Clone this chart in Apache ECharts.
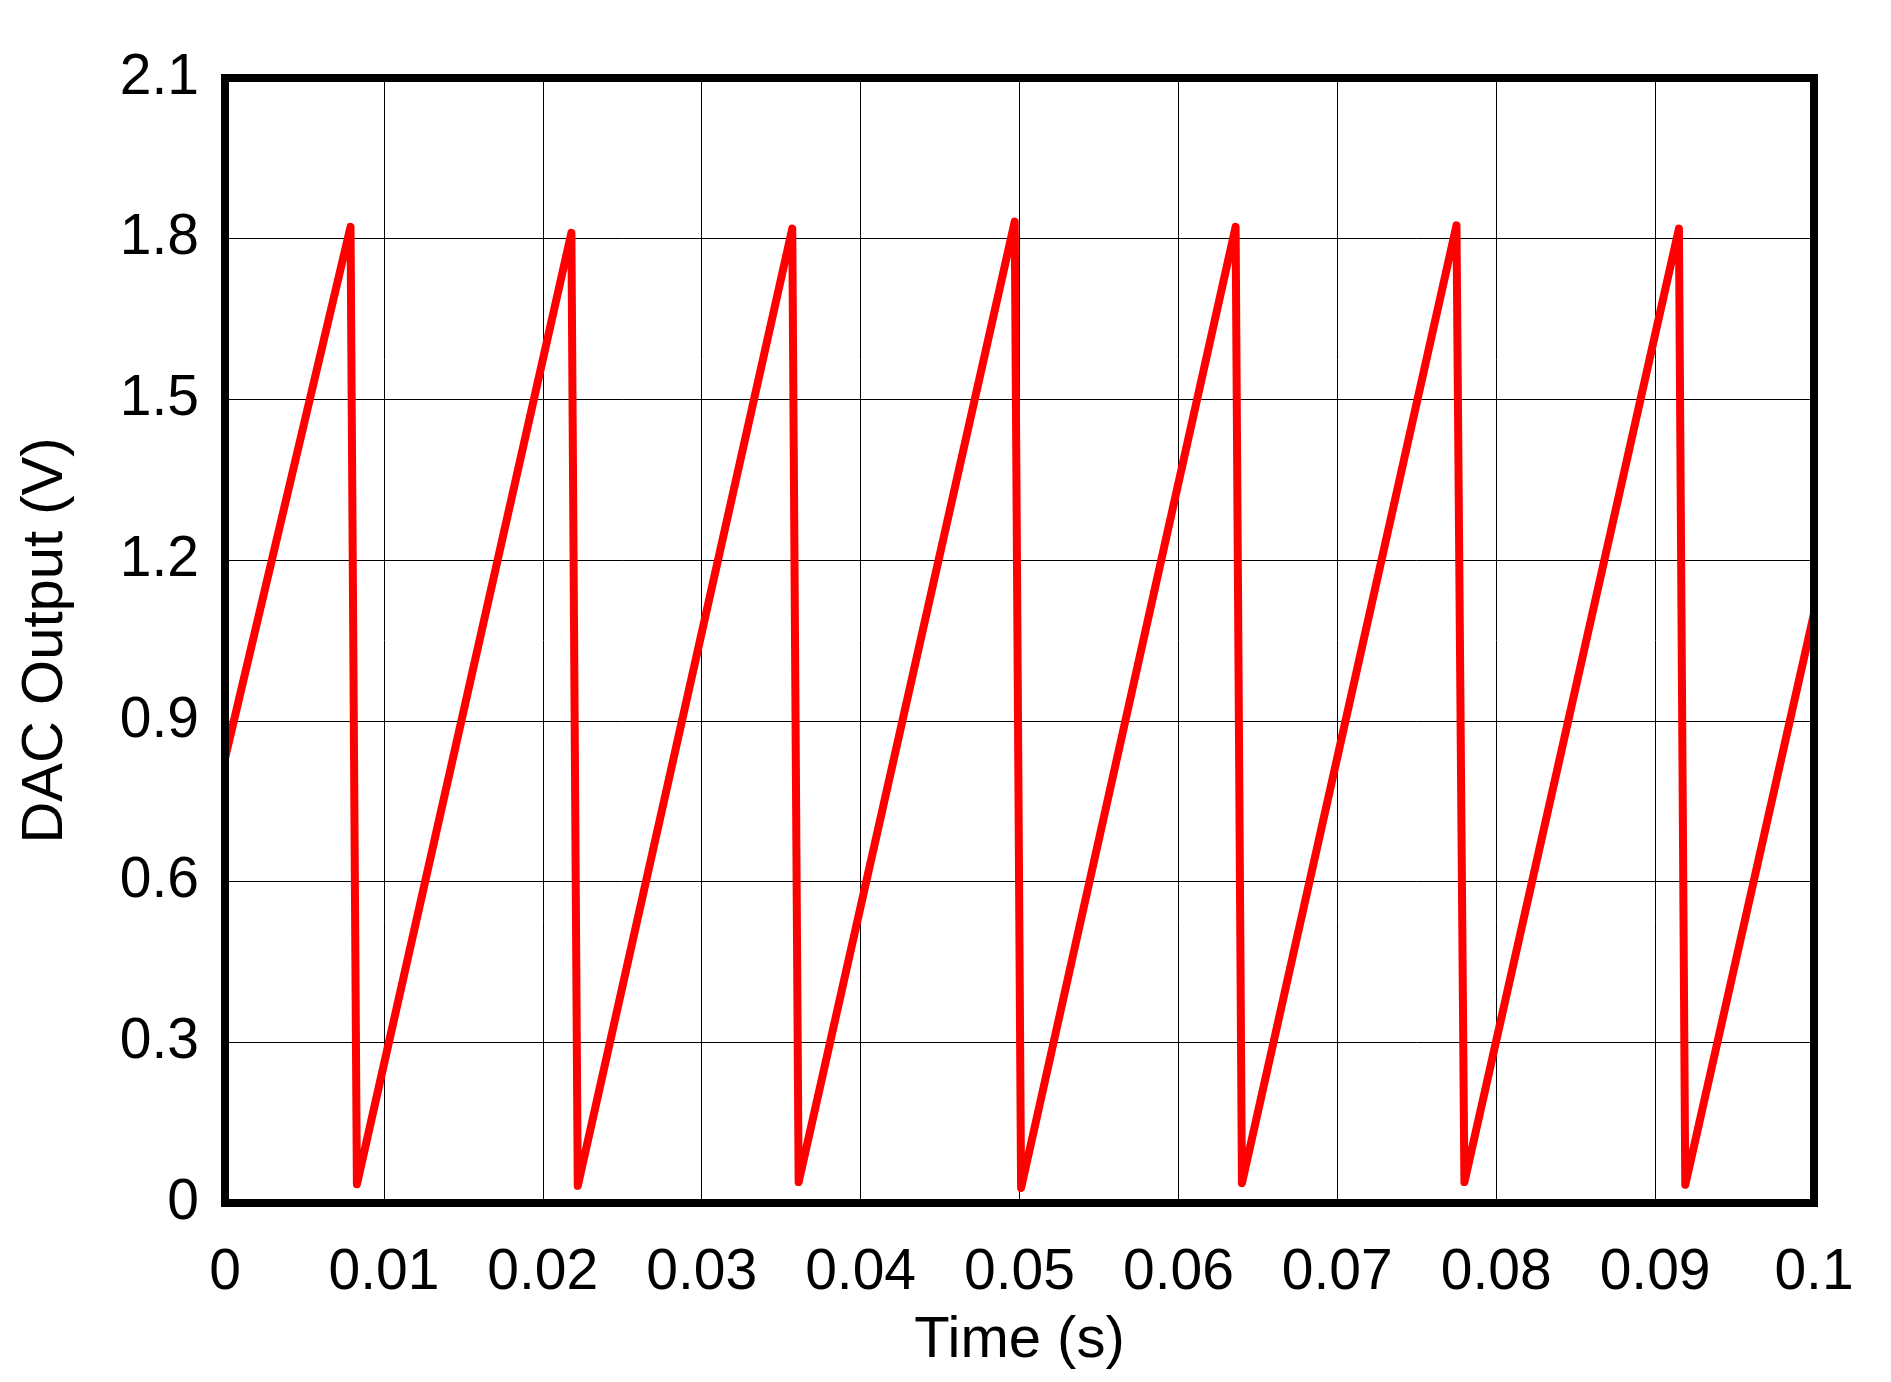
<!DOCTYPE html>
<html>
<head>
<meta charset="utf-8">
<title>DAC Output</title>
<script src="https://cdn.jsdelivr.net/npm/echarts@6.0.0/dist/echarts.min.js"></script>
<style>
  html, body { margin: 0; padding: 0; background: #fff; }
  #chart { width: 1891px; height: 1382px; }
</style>
</head>
<body>
<div id="chart"></div>
<script>
// sawtooth: peak, then a near-vertical drop to the trough
const timeValues = [0, 0.0079, 0.0083, 0.0218, 0.0222, 0.0357, 0.0361, 0.0497, 0.0501,
  0.0636, 0.0640, 0.0775, 0.0780, 0.0915, 0.0919, 0.1]
const voltValues = [0.83, 1.822, 0.035, 1.811, 0.032, 1.819, 0.039, 1.832, 0.028,
  1.822, 0.037, 1.825, 0.039, 1.819, 0.034, 1.10]
const xTickLabels = ['0', '0.01', '0.02', '0.03', '0.04', '0.05', '0.06', '0.07', '0.08', '0.09', '0.1']
const yTickLabels = ['0', '0.3', '0.6', '0.9', '1.2', '1.5', '1.8', '2.1']

const font = 'Liberation Sans, Arial, sans-serif'
const border = {
  show: true,
  onZero: false,
  lineStyle: { color: '#000', width: 8, cap: 'square' }
}
// extra axes only draw the frame, on top of the trace
const frameX = (pos) => ({
  type: 'value', position: pos, min: 0, max: 0.1, z: 10,
  axisLine: border, axisTick: { show: false }, axisLabel: { show: false }, splitLine: { show: false }
})
const frameY = (pos) => ({
  type: 'value', position: pos, min: 0, max: 2.1, z: 10,
  axisLine: border, axisTick: { show: false }, axisLabel: { show: false }, splitLine: { show: false }
})

const option = {
  animation: false,
  backgroundColor: '#fff',
  grid: { left: 225, right: 77, top: 78, bottom: 179 },
  xAxis: [
    {
      type: 'value',
      min: 0,
      max: 0.1,
      interval: 0.01,
      name: 'Time (s)',
      nameLocation: 'middle',
      nameGap: 109,
      nameTextStyle: { color: '#000', fontSize: 58, fontFamily: font },
      axisLine: { show: false },
      axisTick: { show: false },
      axisLabel: {
        color: '#000', fontSize: 57, fontFamily: font, margin: 42,
        formatter: (v, i) => xTickLabels[i]
      },
      splitLine: { lineStyle: { color: '#000', width: 1 } }
    },
    frameX('top'),
    frameX('bottom')
  ],
  yAxis: [
    {
      type: 'value',
      min: 0,
      max: 2.1,
      interval: 0.3,
      name: 'DAC Output (V)',
      nameLocation: 'middle',
      nameGap: 150,
      nameTextStyle: { color: '#000', fontSize: 58, fontFamily: font },
      axisLine: { show: false },
      axisTick: { show: false },
      axisLabel: {
        color: '#000', fontSize: 57, fontFamily: font, margin: 26,
        formatter: (v, i) => yTickLabels[i]
      },
      splitLine: { lineStyle: { color: '#000', width: 1 } }
    },
    frameY('left'),
    frameY('right')
  ],
  series: [
    {
      type: 'line',
      symbol: 'none',
      silent: true,
      lineStyle: { color: '#ff0000', width: 8, cap: 'round', join: 'round' },
      data: timeValues.map((t, i) => [t, voltValues[i]])
    }
  ]
}

const chartIns = echarts.init(document.getElementById('chart'))
chartIns.setOption(option)
</script>
</body>
</html>
